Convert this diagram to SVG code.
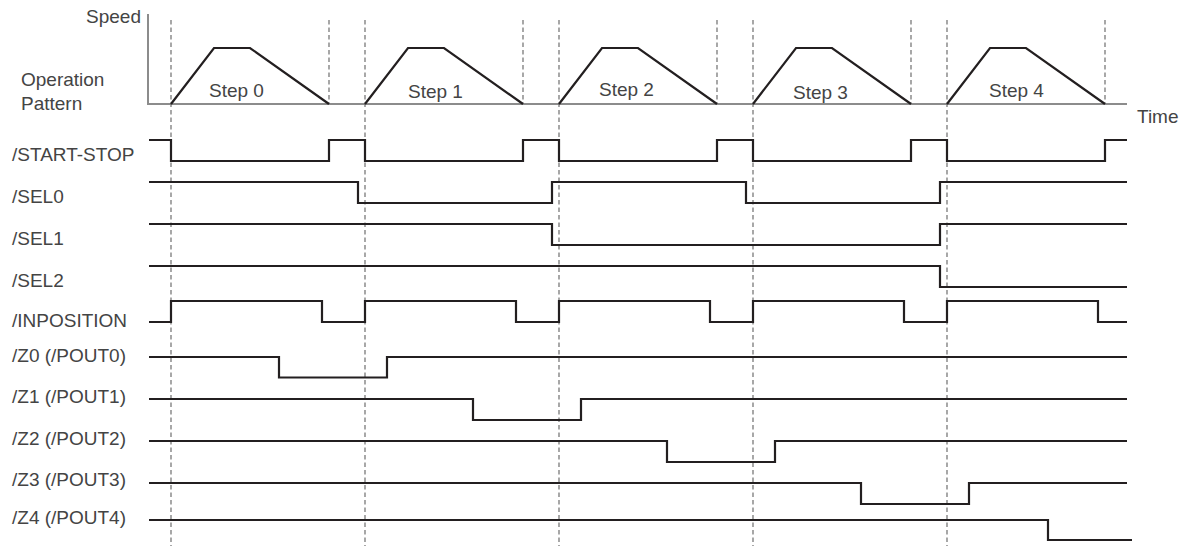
<svg xmlns="http://www.w3.org/2000/svg" width="1195" height="548" viewBox="0 0 1195 548">
<style>
text{font-family:"Liberation Sans",Arial,sans-serif;font-size:19px;fill:#444}
.axis{fill:none;stroke:#8c8c8c;stroke-width:2}
.dash{fill:none;stroke:#6e6e6e;stroke-width:1.2;stroke-dasharray:4.5,3}
.sig{fill:none;stroke:#231f20;stroke-width:2.2;stroke-linejoin:miter}
</style>
<rect width="1195" height="548" fill="#fff"/>
<g id="axes">
<polyline class="axis" points="148,14 148,104 1127,104"/>
<text x="141" y="22.5" text-anchor="end">Speed</text>
<text x="21" y="86">Operation</text>
<text x="21" y="110">Pattern</text>
<text x="1137" y="122.5">Time</text>
</g>
<g id="guides">
<line class="dash" x1="171" y1="20" x2="171" y2="546"/>
<line class="dash" x1="365" y1="20" x2="365" y2="546"/>
<line class="dash" x1="559" y1="20" x2="559" y2="546"/>
<line class="dash" x1="753" y1="20" x2="753" y2="546"/>
<line class="dash" x1="947" y1="20" x2="947" y2="546"/>
<line class="dash" x1="329" y1="20" x2="329" y2="104"/>
<line class="dash" x1="523" y1="20" x2="523" y2="104"/>
<line class="dash" x1="717" y1="20" x2="717" y2="104"/>
<line class="dash" x1="911" y1="20" x2="911" y2="104"/>
<line class="dash" x1="1105" y1="20" x2="1105" y2="104"/>
</g>
<g id="pattern">
<polyline class="sig" points="171,104 214,48 250,48 329,104"/>
<polyline class="sig" points="365,104 408,48 444,48 523,104"/>
<polyline class="sig" points="559,104 602,48 638,48 717,104"/>
<polyline class="sig" points="753,104 796,48 832,48 911,104"/>
<polyline class="sig" points="947,104 990,48 1026,48 1105,104"/>
<text x="209" y="97">Step 0</text>
<text x="408" y="97.5">Step 1</text>
<text x="599" y="95.5">Step 2</text>
<text x="793" y="98.5">Step 3</text>
<text x="989" y="97">Step 4</text>
</g>
<g id="start-stop">
<text x="12" y="161">/START-STOP</text>
<polyline class="sig" points="149,140 171,140 171,161 329,161 329,140 365,140 365,161 523,161 523,140 559,140 559,161 717,161 717,140 753,140 753,161 911,161 911,140 947,140 947,161 1105,161 1105,140 1127,140"/>
</g>
<g id="sel0">
<text x="12" y="203">/SEL0</text>
<polyline class="sig" points="149,182 358,182 358,203 552,203 552,182 746,182 746,203 940,203 940,182 1127,182"/>
</g>
<g id="sel1">
<text x="12" y="244.5">/SEL1</text>
<polyline class="sig" points="149,224 552,224 552,245 940,245 940,224 1127,224"/>
</g>
<g id="sel2">
<text x="12" y="286.5">/SEL2</text>
<polyline class="sig" points="149,266 940,266 940,287 1127,287"/>
</g>
<g id="inposition">
<text x="12" y="327">/INPOSITION</text>
<polyline class="sig" points="149,322 171,322 171,301 322,301 322,322 365,322 365,301 516,301 516,322 559,322 559,301 710,301 710,322 753,322 753,301 904,301 904,322 947,322 947,301 1098,301 1098,322 1127,322"/>
</g>
<g id="z0">
<text x="12" y="362">/Z0 (/POUT0)</text>
<polyline class="sig" points="149,357 279,357 279,377.5 387,377.5 387,357 1127,357"/>
</g>
<g id="z1">
<text x="12" y="403">/Z1 (/POUT1)</text>
<polyline class="sig" points="149,399 473,399 473,420 581,420 581,399 1127,399"/>
</g>
<g id="z2">
<text x="12" y="444.5">/Z2 (/POUT2)</text>
<polyline class="sig" points="149,441 667,441 667,462 775,462 775,441 1127,441"/>
</g>
<g id="z3">
<text x="12" y="485.5">/Z3 (/POUT3)</text>
<polyline class="sig" points="149,483 861,483 861,504 969,504 969,483 1127,483"/>
</g>
<g id="z4">
<text x="12" y="523.5">/Z4 (/POUT4)</text>
<polyline class="sig" points="149,520 1048,520 1048,540 1132,540"/>
</g>
</svg>
